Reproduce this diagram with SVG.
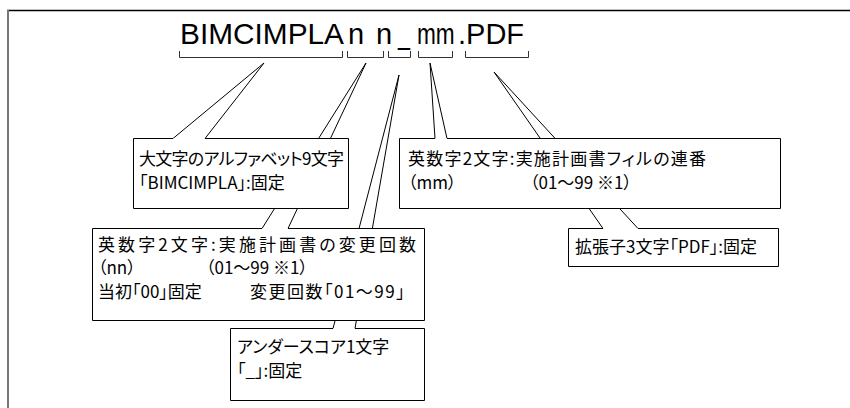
<svg xmlns="http://www.w3.org/2000/svg" width="850" height="408" viewBox="0 0 850 408">
<style>
.title{font-family:"Liberation Sans",Arial,sans-serif;font-size:29px;fill:#000}
.t{font-family:"Noto Sans CJK JP","Liberation Sans",sans-serif;font-size:17px;fill:#000;font-feature-settings:"palt" 1}
.box{fill:#fff;stroke:#000;stroke-width:1}
.con{stroke:#000;stroke-width:1;fill:none}
.br{stroke:#333;stroke-width:1;fill:none}
</style>
<rect x="0" y="0" width="850" height="408" fill="#fff"/>
<line x1="7" y1="10.5" x2="850" y2="10.5" stroke="#000" stroke-width="1.5"/>
<line x1="8" y1="10" x2="8" y2="408" stroke="#777" stroke-width="2"/>
<g id="title">
<text class="title" x="180" y="44" textLength="164" lengthAdjust="spacingAndGlyphs">BIMCIMPLA</text>
<text class="title" x="348" y="44">n</text>
<text class="title" x="376" y="44">n</text>
<text class="title" x="398" y="44" textLength="12" lengthAdjust="spacingAndGlyphs">_</text>
<text class="title" transform="translate(417,44) scale(0.78,1)">mm</text>
<text class="title" x="458" y="44">.PDF</text>
<path class="br" d="M179.5,51 V57.5 H342.5 V51 M347.5,51 V57.5 H383.5 V51 M388.5,51 V57.5 H410.5 V51 M418.5,51 V57.5 H452.5 V51 M465.5,51 V57.5 H528.5 V51"/>
</g>
<g id="connectors">
<path class="con" d="M173,138.5 L264,63 L205,138.5"/>
<path class="con" d="M262,228.5 L366,63 L288,228.5"/>
<path class="con" d="M333,328.5 L399,75 L355,328.5"/>
<path class="con" d="M435,138.5 L430,63 L447,138.5"/>
<path class="con" d="M603,228.5 L494,72 L638,228.5"/>
</g>
<g id="box3">
<path class="box" d="M355,328.5 H424.5 V400.5 H230.5 V328.5 H333"/>
<text class="t" x="237" y="353">アンダースコア1文字</text>
<text class="t" x="237" y="377">「_」:固定</text>
</g>
<g id="box2">
<path class="box" d="M288,228.5 H424.5 V320.5 H92.5 V228.5 H262"/>
<text class="t" x="98" y="251" textLength="318" lengthAdjust="spacing">英数字2文字:実施計画書の変更回数</text>
<text class="t" x="98" y="274">（nn）</text>
<text class="t" x="206" y="274">（01～99  ※1）</text>
<text class="t" x="98" y="298">当初「00」固定</text>
<text class="t" x="250" y="298" letter-spacing="1.5">変更回数「01～99」</text>
</g>
<g id="box1">
<path class="box" d="M205,138.5 H348.5 V208.5 H133.5 V138.5 H173"/>
<text class="t" x="139" y="165" textLength="205" lengthAdjust="spacing">大文字のアルファベット9文字</text>
<text class="t" x="139" y="189">「BIMCIMPLA」:固定</text>
</g>
<g id="box5">
<path class="box" d="M638,228.5 H778.5 V266.5 H568.5 V228.5 H603"/>
<text class="t" x="575" y="253">拡張子3文字「PDF」:固定</text>
</g>
<g id="box4">
<path class="box" d="M447,138.5 H780.5 V208.5 H399.5 V138.5 H435"/>
<text class="t" x="408" y="165" textLength="298" lengthAdjust="spacing">英数字2文字:実施計画書フィルの連番</text>
<text class="t" x="408" y="189">（mm）</text>
<text class="t" x="530" y="189">（01～99  ※1）</text>
</g>
</svg>
